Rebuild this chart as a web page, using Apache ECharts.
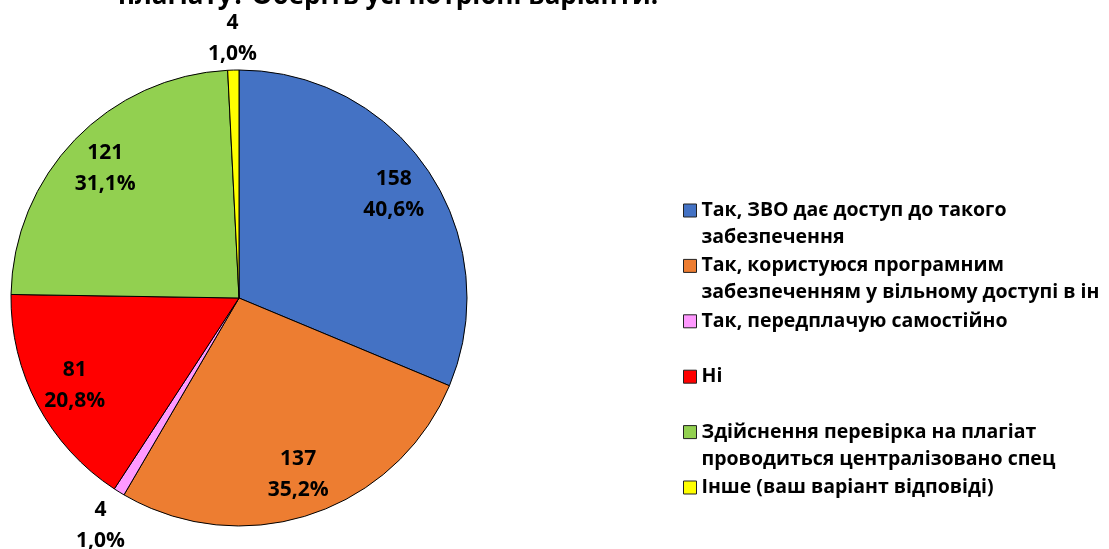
<!DOCTYPE html>
<html>
<head>
<meta charset="utf-8">
<script src="https://cdn.jsdelivr.net/npm/echarts@6/dist/echarts.min.js"></script>
<style>
html,body{margin:0;padding:0;background:#fff;}
#chart{width:1109px;height:549px;}
</style>
</head>
<body>
<div id="chart"></div>
<script>
var titleText = 'плагіату? Оберіть усі потрібні варіанти.';
var categories = [
  'Так, ЗВО дає доступ до такого\nзабезпечення',
  'Так, користуюся програмним\nзабезпеченням у вільному доступі в ін',
  'Так, передплачую самостійно',
  'Ні',
  'Здійснення перевірка на плагіат\nпроводиться централізовано спец',
  'Інше (ваш варіант відповіді)'
];
var values = [158, 137, 4, 81, 121, 4];
var percents = ['40,6%', '35,2%', '1,0%', '20,8%', '31,1%', '1,0%'];
var colors = ['#4472C4', '#ED7D31', '#FF99FF', '#FF0000', '#92D050', '#FFFF00'];

var FONT = '"Open Sans", "Noto Sans", sans-serif';
var SMALL = 10;

function mkData(filter) {
  return categories.map(function (c, i) {
    var d = { name: c, value: values[i] };
    if (filter) d.label = { show: filter(values[i]) };
    return d;
  });
}
var textBase = { fontFamily: FONT, fontWeight: 'bold', fontSize: 21, lineHeight: 31, color: '#000' };
var insideLabel = Object.assign({
  position: 'inside',
  formatter: function (p) { return values[p.dataIndex] + '\n' + percents[p.dataIndex]; }
}, textBase);
var outerLabel = Object.assign({
  position: 'inside',
  formatter: function (p) {
    return '{s| }\n{b|' + values[p.dataIndex] + '}\n{b|' + percents[p.dataIndex] + '}';
  },
  rich: { s: { fontSize: 1, lineHeight: 7 }, b: Object.assign({}, textBase) }
}, textBase);
var helperBase = {
  type: 'pie', center: [239, 298], startAngle: 90, clockwise: true,
  silent: true, legendHoverLink: false, avoidLabelOverlap: false,
  itemStyle: { color: 'rgba(0,0,0,0)', borderWidth: 0 },
  emphasis: { disabled: true }, labelLine: { show: false }
};

var chart = echarts.init(document.getElementById('chart'));
chart.setOption({
  animation: false,
  color: colors,
  title: {
    text: titleText, left: 118, top: -18, padding: 0,
    textStyle: { fontFamily: FONT, fontWeight: 'bold', fontSize: 26, lineHeight: 30, color: '#000' }
  },
  legend: {
    orient: 'vertical', left: 683, top: 197, padding: 0, itemGap: 1.4,
    itemWidth: 13, itemHeight: 40,
    icon: 'path://M0,0h13v13h-13z M0,40',
    itemStyle: { borderColor: '#222', borderWidth: 1 },
    data: categories,
    formatter: function (n) { return n.indexOf('\n') >= 0 ? n : n + '\n '; },
    textStyle: { fontFamily: FONT, fontWeight: 'bold', fontSize: 19.5, lineHeight: 27, color: '#000' }
  },
  series: [
    {
      type: 'pie', center: [239, 298], radius: [0, 228], startAngle: 90, clockwise: true,
      data: mkData(null),
      itemStyle: { borderColor: '#000', borderWidth: 1 },
      label: { show: false }, labelLine: { show: false },
      emphasis: { scale: false }
    },
    Object.assign({}, helperBase, {
      radius: [138, 228],
      data: mkData(function (v) { return v >= SMALL; }),
      label: insideLabel
    }),
    Object.assign({}, helperBase, {
      radius: [235, 286],
      data: mkData(function (v) { return v < SMALL; }),
      label: outerLabel
    })
  ]
});
</script>
</body>
</html>
